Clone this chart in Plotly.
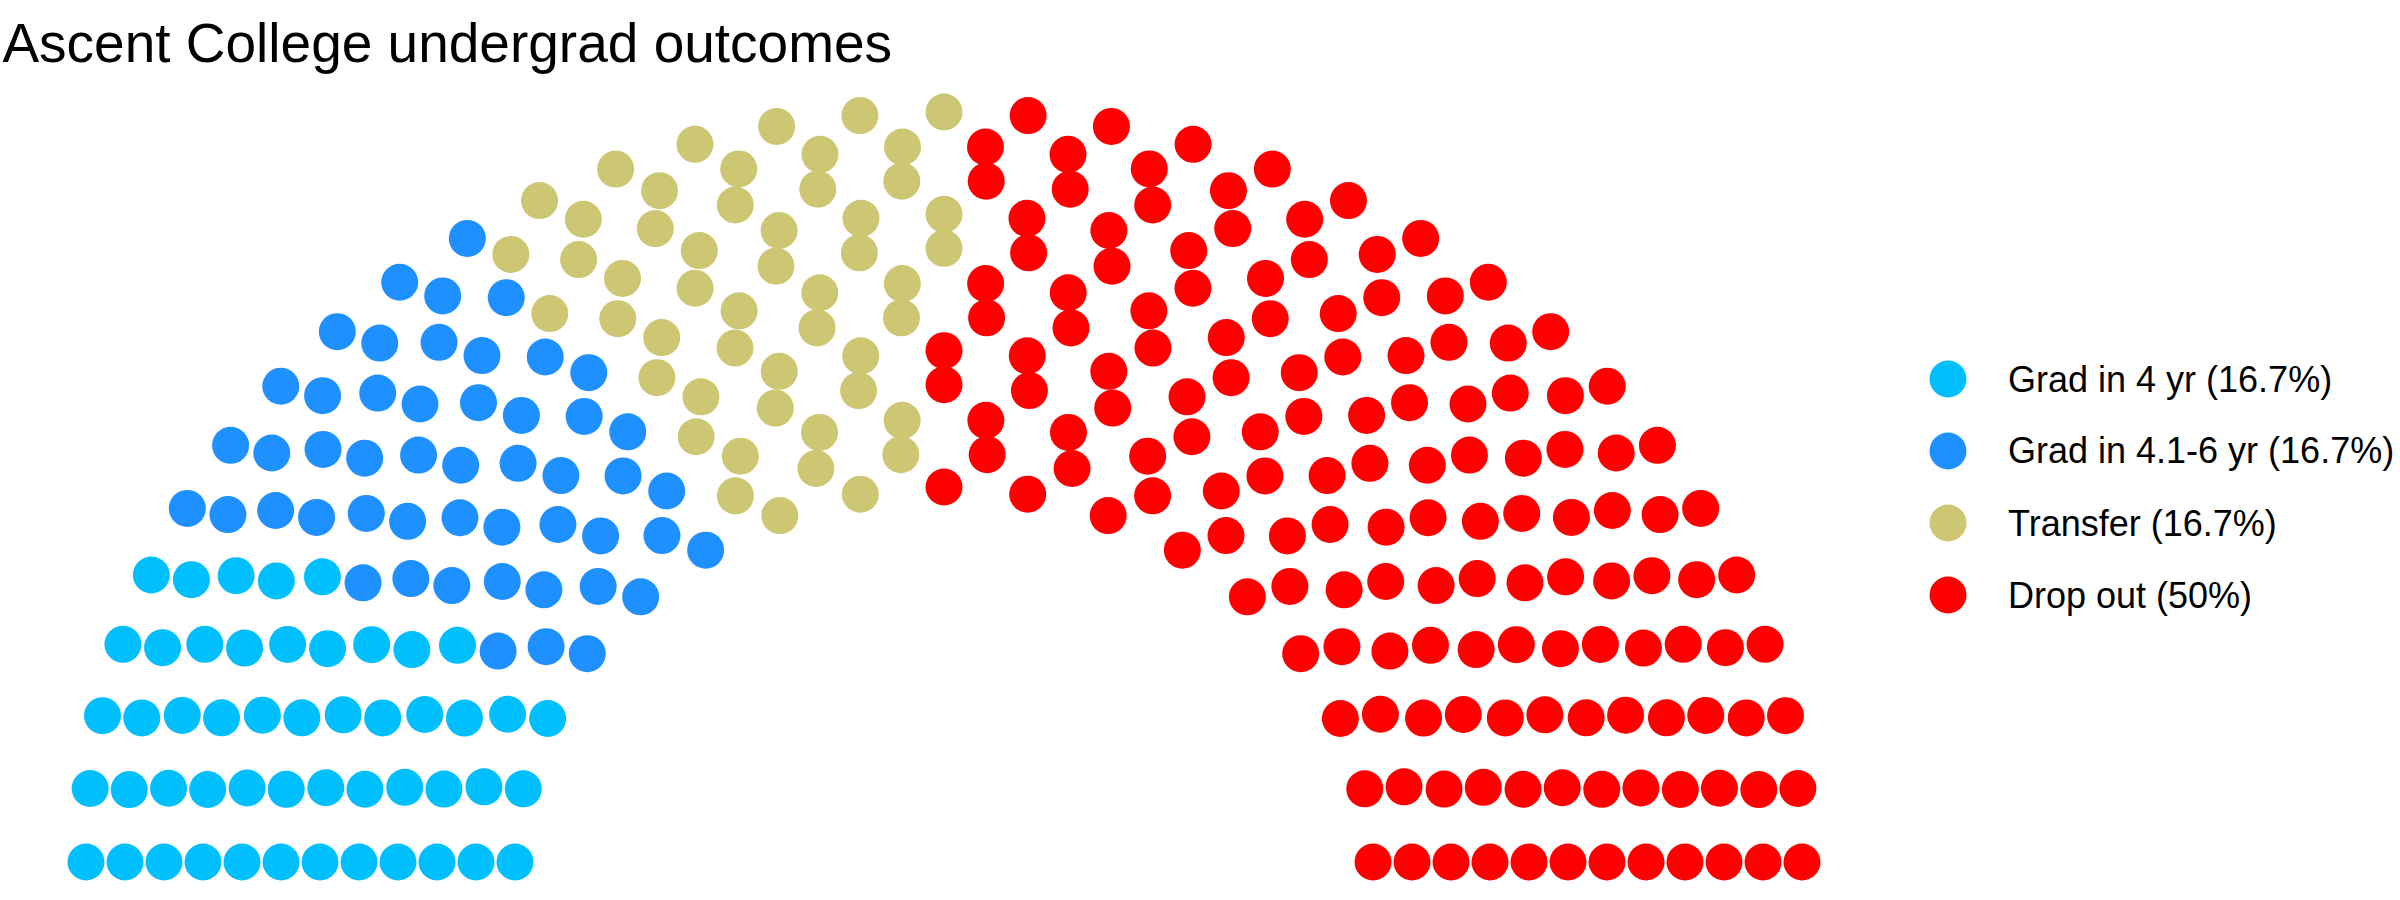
import numpy as np
import plotly.graph_objects as go

# outcome groups and number of students (seats) in each
outcomes = ["Grad in 4 yr", "Grad in 4.1-6 yr", "Transfer", "Drop out"]
students = [50, 50, 50, 150]
colors = ["#00BFFF", "#1E90FF", "#CDC673", "#FF0000"]
parl_rows = 12

title_text = "Ascent College undergrad outcomes"

W, H = 2400, 900
FONT = "Liberation Sans, Arial, Helvetica, sans-serif"


def semicircle_layout(seats, n_rows):
    # same idea as ggparliament's semicircle: rows from radius 1 to 2,
    # seats per row proportional to the radius
    total = sum(seats)
    radii = np.linspace(1, 2, n_rows)
    row_seats = np.round(radii * total / radii.sum()).astype(int)
    row_seats[-1] += total - row_seats.sum()

    xs, ys, th, rr = [], [], [], []
    for r, n in zip(radii, row_seats):
        theta = np.linspace(0, np.pi, n)
        xs.extend(r * np.cos(theta))
        ys.extend(r * np.sin(theta))
        th.extend(theta)
        rr.extend([r] * n)
    xs, ys, th, rr = map(np.array, (xs, ys, th, rr))

    # fill seats from the left (theta = pi) round to the right, outer rows first on ties
    order = np.lexsort((-rr, -np.round(th, 9)))
    return xs[order], ys[order]


x, y = semicircle_layout(students, parl_rows)

fig = go.Figure()

start = 0
for name, n, col in zip(outcomes, students, colors):
    fig.add_trace(go.Scatter(
        x=x[start:start + n],
        y=y[start:start + n],
        mode="markers",
        name=name,
        marker=dict(size=37, color=col, line=dict(width=0)),
        hoverinfo="name",
        showlegend=False,
    ))
    start += n

# legend drawn by hand so the keys can be as big as the seats
total = sum(students)
shapes, annotations = [], []
for i, (name, n, col) in enumerate(zip(outcomes, students, colors)):
    pct = round(100 * n / total, 1)
    ypix = 379 + 72 * i
    shapes.append(dict(
        type="circle", xref="paper", yref="paper",
        xsizemode="pixel", ysizemode="pixel",
        xanchor=1948 / W, yanchor=1 - ypix / H,
        x0=-18.5, x1=18.5, y0=-18.5, y1=18.5,
        fillcolor=col, line=dict(width=0),
    ))
    annotations.append(dict(
        text=f"{name} ({pct:g}%)",
        xref="paper", yref="paper",
        x=2006 / W, y=1 - ypix / H,
        xanchor="left", yanchor="middle",
        showarrow=False,
        font=dict(size=36, color="black", family=FONT),
    ))

# pixel scale: 429 px per unit across, 375 px per unit up, centre at (944, 862)
cx, cy, sx, sy = 944, 862, 429, 375

fig.update_layout(
    width=W, height=H,
    margin=dict(l=0, r=0, t=0, b=0),
    paper_bgcolor="white",
    plot_bgcolor="white",
    title=dict(
        text=title_text,
        x=0.001, xref="container", xanchor="left",
        y=1 - 43 / H, yref="container", yanchor="middle",
        font=dict(size=55, color="black", family=FONT),
        pad=dict(l=0, r=0, t=0, b=0),
    ),
    xaxis=dict(visible=False, range=[-cx / sx, (W - cx) / sx], fixedrange=True),
    yaxis=dict(visible=False, range=[-(H - cy) / sy, cy / sy], fixedrange=True),
    shapes=shapes,
    annotations=annotations,
    showlegend=False,
)

# drop the browser's default body margin so the figure sits at the page corner
fig.write_html(
    "out.html",
    config={"displayModeBar": False},
    post_script="document.body.style.margin = '0';",
)
